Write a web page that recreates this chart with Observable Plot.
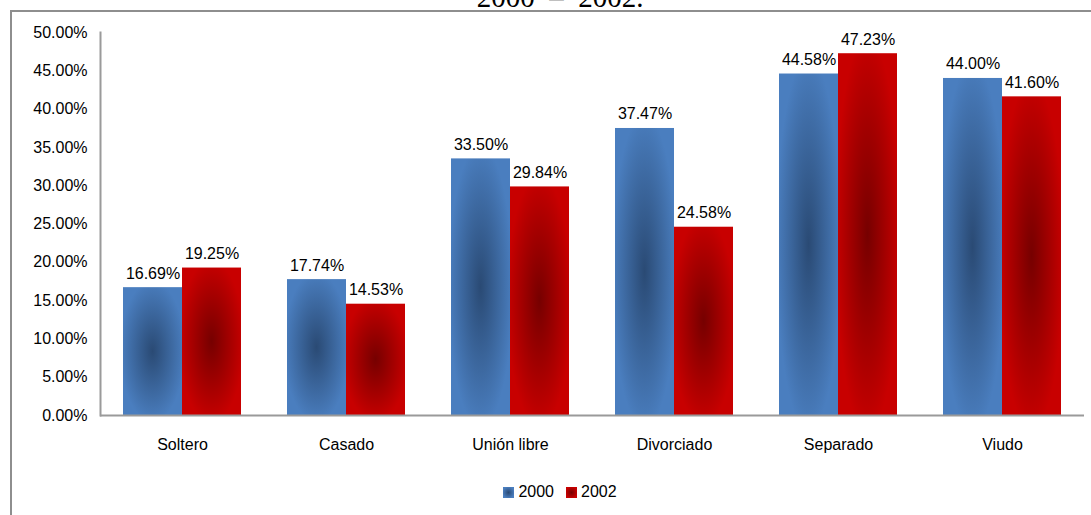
<!DOCTYPE html>
<html>
<head>
<meta charset="utf-8">
<script src="https://cdn.jsdelivr.net/npm/d3@7"></script>
<script src="https://cdn.jsdelivr.net/npm/@observablehq/plot@0.6"></script>
<style>
  html, body { margin: 0; padding: 0; background: #fff; overflow: hidden; }
  #page { position: relative; width: 1091px; height: 515px; overflow: hidden; font-family: "Liberation Sans", Arial, sans-serif; }
  #box { position: absolute; left: 10px; top: 10px; width: 1100px; height: 520px; border-top: 2px solid #8e8e8e; border-left: 2px solid #8e8e8e; box-sizing: border-box; }
  #title { position: absolute; left: 10px; width: 1100px; top: -17px; height: 29px; line-height: 29px; text-align: center; font-family: "Liberation Serif", "Times New Roman", serif; font-size: 29px; color: #000; white-space: pre; }
  #chart { position: absolute; left: 0; top: 0; }
  #legend { position: absolute; left: 10px; width: 1100px; top: 483px; display: flex; justify-content: center; align-items: center; font-size: 16px; color: #000; }
  .item { display: flex; align-items: center; margin: 0 6px; }
  .sw { width: 11px; height: 11px; margin-right: 4px; }
</style>
</head>
<body>
<div id="page">
  <div id="title">2000  –  2002.</div>
  <div id="box"></div>
  <div id="chart"></div>
  <div id="legend"></div>
</div>
<script>
const categories = ["Soltero", "Casado", "Unión libre", "Divorciado", "Separado", "Viudo"];
const years = ["2000", "2002"];
const values2000 = [16.69, 17.74, 33.50, 37.47, 44.58, 44.00];
const values2002 = [19.25, 14.53, 29.84, 24.58, 47.23, 41.60];
const yTicks = [0, 5, 10, 15, 20, 25, 30, 35, 40, 45, 50];

const colors = {
  "2000": {outer: "#4a7ebf", inner: "#2a4a74", id: "gBlue"},
  "2002": {outer: "#c80000", inner: "#760000", id: "gRed"}
};

const data = categories.flatMap((c, i) => [
  {cat: c, year: years[0], v: values2000[i]},
  {cat: c, year: years[1], v: values2002[i]}
]);

const fmt = d => d.toFixed(2) + "%";
const FS = 16;

const plot = Plot.plot({
  width: 1091,
  height: 470,
  marginLeft: 100,
  marginRight: 7,
  marginTop: 32,
  marginBottom: 55,
  style: {fontFamily: "'Liberation Sans', Arial, sans-serif", fontSize: FS + "px", color: "#000", background: "transparent", overflow: "visible"},
  fx: {domain: categories, padding: 0, label: null},
  x: {domain: years, paddingInner: 0, paddingOuter: 0.367, axis: null},
  y: {domain: [0, 50], label: null},
  marks: [
    Plot.axisY({ticks: yTicks, tickFormat: fmt, tickSize: 0, tickPadding: 13, fontSize: FS, label: null, fill: "#000"}),
    Plot.axisFx({anchor: "bottom", tickSize: 0, tickPadding: 23, fontSize: FS, label: null, fill: "#000"}),
    Plot.barY(data.filter(d => d.year === years[0]), {fx: "cat", x: "year", y: "v", fill: "url(#gBlue)"}),
    Plot.barY(data.filter(d => d.year === years[1]), {fx: "cat", x: "year", y: "v", fill: "url(#gRed)"}),
    Plot.text(data, {fx: "cat", x: "year", y: "v", text: d => fmt(d.v), dy: -9, lineAnchor: "bottom", fill: "#000", fontSize: FS}),
    Plot.ruleY([0], {stroke: "#9a9a9a", strokeWidth: 2}),
    Plot.frame({anchor: "left", facetAnchor: "left", stroke: "#9a9a9a", strokeWidth: 2})
  ]
});

document.getElementById("chart").appendChild(plot);

const svg = d3.select(plot.tagName.toLowerCase() === "svg" ? plot : plot.querySelector("svg"));
const defs = svg.insert("defs", ":first-child");
for (const y of years) {
  const c = colors[y];
  const g = defs.append("radialGradient").attr("id", c.id).attr("cx", "50%").attr("cy", "50%").attr("r", "55%");
  g.append("stop").attr("offset", "0%").attr("stop-color", c.inner);
  g.append("stop").attr("offset", "100%").attr("stop-color", c.outer);
}

const legend = d3.select("#legend");
for (const y of years) {
  const c = colors[y];
  const it = legend.append("div").attr("class", "item");
  it.append("div").attr("class", "sw").style("background", `radial-gradient(circle, ${c.inner} 0%, ${c.outer} 75%)`);
  it.append("span").text(y);
}
</script>
</body>
</html>
